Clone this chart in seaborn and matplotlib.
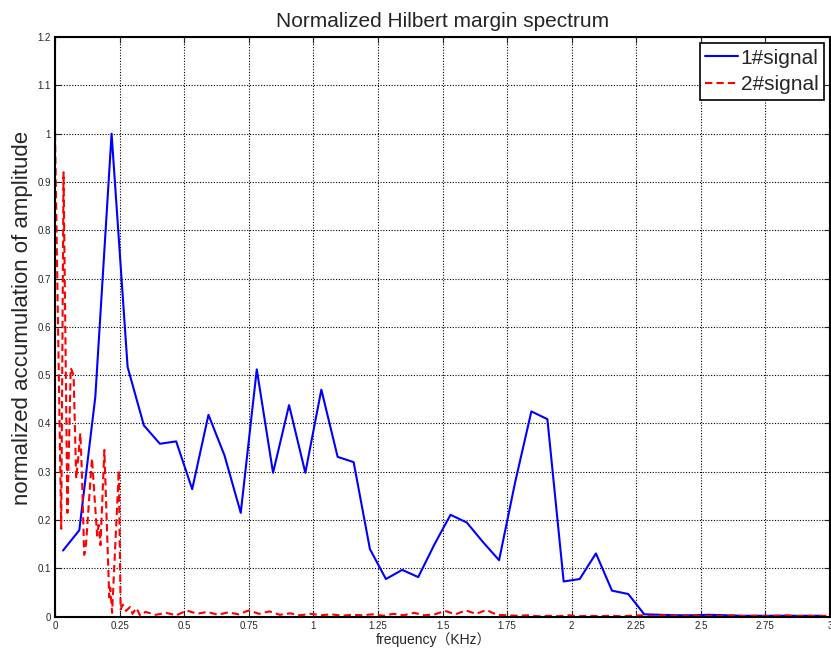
import matplotlib
matplotlib.use('Agg')
import matplotlib.pyplot as plt
import seaborn as sns
import pandas as pd
import numpy as np
from matplotlib.lines import Line2D

# 1#signal: coarse spectrum (KHz, normalized amplitude)
sig1_freq = [0.031, 0.094, 0.156, 0.219, 0.281, 0.344, 0.406, 0.469, 0.531, 0.594,
             0.656, 0.719, 0.781, 0.844, 0.906, 0.969, 1.031, 1.094, 1.156, 1.219,
             1.281, 1.344, 1.406, 1.469, 1.531, 1.594, 1.656, 1.719, 1.781, 1.844,
             1.906, 1.969, 2.031, 2.094, 2.156, 2.219, 2.281, 2.344, 2.406, 2.469,
             2.531, 2.594, 2.656, 2.719, 2.781, 2.844, 2.906, 2.969]
sig1_amp = [0.137, 0.179, 0.455, 1.000, 0.517, 0.396, 0.358, 0.363, 0.264, 0.418,
            0.334, 0.215, 0.512, 0.298, 0.438, 0.298, 0.470, 0.331, 0.320, 0.140,
            0.078, 0.097, 0.082, 0.150, 0.211, 0.195, 0.155, 0.117, 0.278, 0.425,
            0.409, 0.073, 0.078, 0.131, 0.054, 0.047, 0.005, 0.004, 0.003, 0.003,
            0.004, 0.003, 0.002, 0.002, 0.002, 0.002, 0.002, 0.002]

# 2#signal: fine spectrum, energy concentrated below 0.25 KHz
sig2_freq = [0.000, 0.024, 0.033, 0.048, 0.061, 0.072, 0.082, 0.090, 0.098, 0.104,
             0.113, 0.120, 0.143, 0.163, 0.169, 0.176, 0.191, 0.210, 0.214, 0.221,
             0.247, 0.254, 0.262, 0.275, 0.290, 0.300, 0.315, 0.330,
             0.35, 0.39, 0.43, 0.47, 0.51, 0.55, 0.59, 0.63, 0.67, 0.71,
             0.75, 0.79, 0.83, 0.87, 0.91, 0.95, 0.99, 1.03, 1.07, 1.11,
             1.15, 1.19, 1.23, 1.27, 1.31, 1.35, 1.39, 1.43, 1.47, 1.51,
             1.55, 1.59, 1.63, 1.67, 1.71, 1.75, 1.79, 1.83, 1.87, 1.91,
             1.95, 1.99, 2.03, 2.07, 2.11, 2.15, 2.19, 2.23, 2.27, 2.31,
             2.35, 2.39, 2.43, 2.47, 2.51, 2.55, 2.59, 2.63, 2.67, 2.71,
             2.75, 2.79, 2.83, 2.87, 2.91, 2.95, 2.99]
sig2_amp = [1.000, 0.182, 0.920, 0.215, 0.515, 0.500, 0.286, 0.330, 0.380, 0.300,
            0.128, 0.150, 0.328, 0.168, 0.190, 0.148, 0.345, 0.040, 0.060, 0.008,
            0.303, 0.015, 0.025, 0.012, 0.020, 0.006, 0.018, 0.002,
            0.010, 0.004, 0.008, 0.003, 0.013, 0.006, 0.010, 0.004, 0.009, 0.005,
            0.013, 0.006, 0.011, 0.004, 0.007, 0.003, 0.006, 0.003, 0.005, 0.002,
            0.004, 0.003, 0.005, 0.002, 0.006, 0.003, 0.008, 0.003, 0.005, 0.012,
            0.005, 0.013, 0.006, 0.014, 0.004, 0.003, 0.002, 0.003, 0.001, 0.002,
            0.001, 0.003, 0.001, 0.002, 0.001, 0.002, 0.001, 0.002, 0.003, 0.001,
            0.003, 0.002, 0.001, 0.003, 0.001, 0.002, 0.001, 0.003, 0.001, 0.002,
            0.001, 0.002, 0.003, 0.001, 0.002, 0.001, 0.002]

x_ticks = [0, 0.25, 0.5, 0.75, 1, 1.25, 1.5, 1.75, 2, 2.25, 2.5, 2.75, 3]
x_ticklabels = ['0', '0.25', '0.5', '0.75', '1', '1.25', '1.5', '1.75', '2', '2.25', '2.5', '2.75', '3']
y_ticks = [0, 0.1, 0.2, 0.3, 0.4, 0.5, 0.6, 0.7, 0.8, 0.9, 1, 1.1, 1.2]
y_ticklabels = ['0', '0.1', '0.2', '0.3', '0.4', '0.5', '0.6', '0.7', '0.8', '0.9', '1', '1.1', '1.2']

df = pd.concat([
    pd.DataFrame({'freq': sig1_freq, 'amp': sig1_amp, 'signal': '1#signal'}),
    pd.DataFrame({'freq': sig2_freq, 'amp': sig2_amp, 'signal': '2#signal'}),
], ignore_index=True)

sns.set_style('ticks')
plt.rcParams['font.family'] = ['Liberation Sans', 'Noto Sans CJK SC', 'DejaVu Sans']

dash2 = (3.5, 2)

fig = plt.figure(figsize=(8.31, 6.5), dpi=100)
ax = fig.add_axes([0.0662, 0.0512, 0.9326, 0.8918])

sns.lineplot(
    data=df, x='freq', y='amp', hue='signal', style='signal',
    palette={'1#signal': '#0000ff', '2#signal': '#ff0000'},
    dashes={'1#signal': '', '2#signal': dash2},
    estimator=None, sort=False, linewidth=1.5, ax=ax, legend=False
)

ax.set_xlim(0, 3)
ax.set_ylim(0, 1.2)
ax.set_xticks(x_ticks)
ax.set_xticklabels(x_ticklabels, fontsize=7)
ax.set_yticks(y_ticks)
ax.set_yticklabels(y_ticklabels, fontsize=7)
ax.tick_params(direction='in', length=4, width=0.8, top=True, right=True, pad=3)

# MATLAB-like dotted grid
ax.grid(True, color='black', linestyle=(0, (1, 1.5)), linewidth=0.8)
for s in ax.spines.values():
    s.set_linewidth(1.5)
    s.set_color('black')

ax.set_title('Normalized Hilbert margin spectrum', fontsize=15, pad=7)
ax.set_ylabel('normalized accumulation of amplitude', fontsize=16, labelpad=3, y=0.516)
ax.set_xlabel('frequency（KHz）', fontsize=10, labelpad=1, x=0.488)

handles = [
    Line2D([0], [0], color='#0000ff', lw=1.5),
    Line2D([0], [0], color='#ff0000', lw=1.5, linestyle=(0, dash2)),
]
leg = ax.legend(handles, ['1#signal', '2#signal'], loc='upper right', fontsize=15,
                frameon=True, fancybox=False, framealpha=1, edgecolor='black',
                borderpad=0.25, labelspacing=0.38, handlelength=1.55,
                handletextpad=0.15, borderaxespad=0.3)
leg.get_frame().set_linewidth(1.2)

fig.savefig('out.png', dpi=100)
